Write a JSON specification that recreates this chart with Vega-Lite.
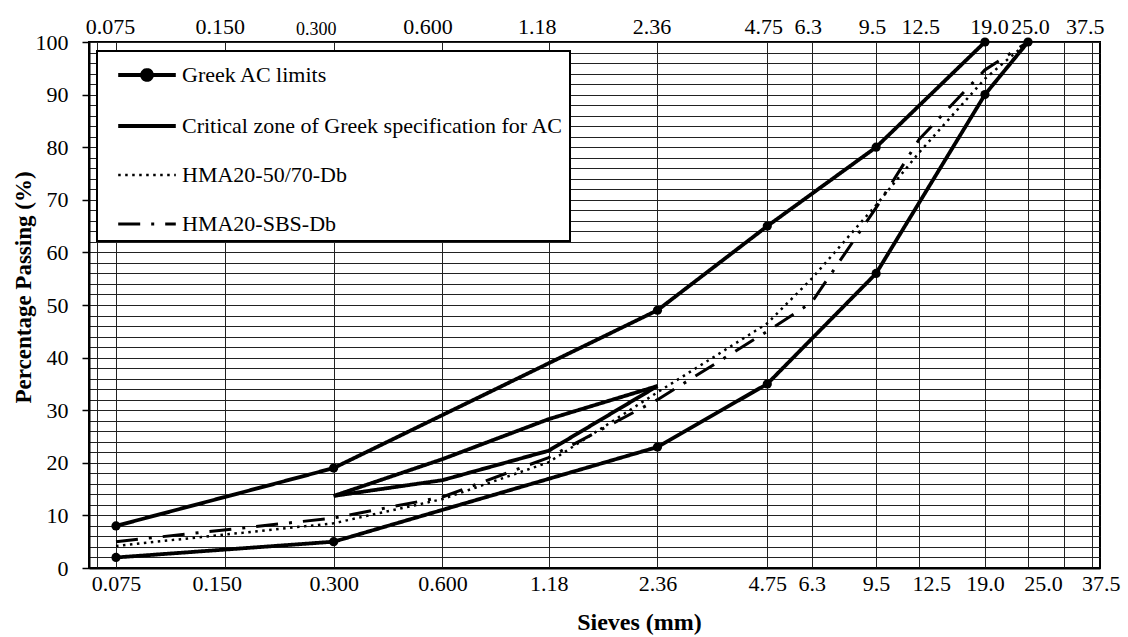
{
  "$schema": "https://vega.github.io/schema/vega-lite/v6.json",
  "width": 1011,
  "height": 526,
  "autosize": {"type": "none"},
  "padding": {"left": 89, "top": 42, "right": 28, "bottom": 69},
  "background": "white",
  "config": {
    "font": "Liberation Serif",
    "view": {"stroke": "black", "strokeWidth": 2}
  },
  "data": {
    "values": [
      {"series": "Greek AC limits", "line": "upper", "sieve": 0.075, "passing": 8},
      {"series": "Greek AC limits", "line": "upper", "sieve": 0.3, "passing": 19},
      {"series": "Greek AC limits", "line": "upper", "sieve": 2.36, "passing": 49},
      {"series": "Greek AC limits", "line": "upper", "sieve": 4.75, "passing": 65},
      {"series": "Greek AC limits", "line": "upper", "sieve": 9.5, "passing": 80},
      {"series": "Greek AC limits", "line": "upper", "sieve": 19, "passing": 100},
      {"series": "Greek AC limits", "line": "lower", "sieve": 0.075, "passing": 2},
      {"series": "Greek AC limits", "line": "lower", "sieve": 0.3, "passing": 5},
      {"series": "Greek AC limits", "line": "lower", "sieve": 2.36, "passing": 23},
      {"series": "Greek AC limits", "line": "lower", "sieve": 4.75, "passing": 35},
      {"series": "Greek AC limits", "line": "lower", "sieve": 9.5, "passing": 56},
      {"series": "Greek AC limits", "line": "lower", "sieve": 19, "passing": 90},
      {"series": "Greek AC limits", "line": "lower", "sieve": 25, "passing": 100},
      {"series": "Critical zone of Greek specification for AC", "line": "zone-low", "sieve": 0.3, "passing": 13.7},
      {"series": "Critical zone of Greek specification for AC", "line": "zone-low", "sieve": 0.6, "passing": 16.7},
      {"series": "Critical zone of Greek specification for AC", "line": "zone-low", "sieve": 1.18, "passing": 22.3},
      {"series": "Critical zone of Greek specification for AC", "line": "zone-low", "sieve": 2.36, "passing": 34.6},
      {"series": "Critical zone of Greek specification for AC", "line": "zone-high", "sieve": 0.3, "passing": 13.7},
      {"series": "Critical zone of Greek specification for AC", "line": "zone-high", "sieve": 0.6, "passing": 20.7},
      {"series": "Critical zone of Greek specification for AC", "line": "zone-high", "sieve": 1.18, "passing": 28.3},
      {"series": "Critical zone of Greek specification for AC", "line": "zone-high", "sieve": 2.36, "passing": 34.6},
      {"series": "HMA20-50/70-Db", "line": "hma-5070", "sieve": 0.075, "passing": 4.2},
      {"series": "HMA20-50/70-Db", "line": "hma-5070", "sieve": 0.3, "passing": 8.5},
      {"series": "HMA20-50/70-Db", "line": "hma-5070", "sieve": 0.6, "passing": 13.1},
      {"series": "HMA20-50/70-Db", "line": "hma-5070", "sieve": 1.18, "passing": 20.1},
      {"series": "HMA20-50/70-Db", "line": "hma-5070", "sieve": 2.36, "passing": 33.4},
      {"series": "HMA20-50/70-Db", "line": "hma-5070", "sieve": 4.75, "passing": 46.5},
      {"series": "HMA20-50/70-Db", "line": "hma-5070", "sieve": 6.3, "passing": 55},
      {"series": "HMA20-50/70-Db", "line": "hma-5070", "sieve": 9.5, "passing": 69},
      {"series": "HMA20-50/70-Db", "line": "hma-5070", "sieve": 12.5, "passing": 79},
      {"series": "HMA20-50/70-Db", "line": "hma-5070", "sieve": 19, "passing": 93},
      {"series": "HMA20-50/70-Db", "line": "hma-5070", "sieve": 25, "passing": 100},
      {"series": "HMA20-SBS-Db", "line": "hma-sbs", "sieve": 0.075, "passing": 5},
      {"series": "HMA20-SBS-Db", "line": "hma-sbs", "sieve": 0.3, "passing": 9.5},
      {"series": "HMA20-SBS-Db", "line": "hma-sbs", "sieve": 0.6, "passing": 13.5},
      {"series": "HMA20-SBS-Db", "line": "hma-sbs", "sieve": 1.18, "passing": 21},
      {"series": "HMA20-SBS-Db", "line": "hma-sbs", "sieve": 2.36, "passing": 32},
      {"series": "HMA20-SBS-Db", "line": "hma-sbs", "sieve": 4.75, "passing": 45},
      {"series": "HMA20-SBS-Db", "line": "hma-sbs", "sieve": 6.3, "passing": 50.5},
      {"series": "HMA20-SBS-Db", "line": "hma-sbs", "sieve": 9.5, "passing": 68.5},
      {"series": "HMA20-SBS-Db", "line": "hma-sbs", "sieve": 12.5, "passing": 81.5},
      {"series": "HMA20-SBS-Db", "line": "hma-sbs", "sieve": 19, "passing": 94.7},
      {"series": "HMA20-SBS-Db", "line": "hma-sbs", "sieve": 25, "passing": 100}
    ]
  },
  "layer": [
    {
      "mark": {"type": "line", "color": "black", "strokeJoin": "round", "strokeCap": "butt"},
      "encoding": {
        "x": {
          "field": "sieve",
          "type": "quantitative",
          "scale": {"type": "log", "domain": [0.06315, 39.54], "nice": false, "zero": false},
          "axis": {
            "orient": "bottom",
            "values": [0.06645, 0.075, 0.15, 0.3, 0.6, 1.18, 2.36, 4.75, 6.3, 9.5, 12.5, 19, 25, 31.5, 37.5],
            "tickCount": 40,
            "labelExpr": "datum.value < 0.07 || (datum.value > 30 && datum.value < 35) ? '' : datum.value < 0.7 ? format(datum.value, '.3f') : datum.value < 5 ? format(datum.value, '.2f') : format(datum.value, '.1f')",
            "grid": true,
            "gridColor": "#222222",
            "gridWidth": 1,
            "ticks": false,
            "tickSize": 0,
            "domainColor": "black",
            "domainWidth": 2,
            "labelFont": "Liberation Serif",
            "labelFontSize": 22,
            "labelColor": "black",
            "labelPadding": 5,
            "labelOverlap": false,
            "labelFlush": false,
            "labelBound": false,
            "labelOffset": {
              "condition": [
                {"test": "abs(datum.value - 0.15) < 0.001", "value": -8},
                {"test": "abs(datum.value - 12.5) < 0.001", "value": 12},
                {"test": "abs(datum.value - 25) < 0.001", "value": 15},
                {"test": "abs(datum.value - 37.5) < 0.001", "value": 9}
              ],
              "value": 0
            },
            "title": "Sieves (mm)",
            "titleFont": "Liberation Serif",
            "titleFontSize": 24,
            "titleFontWeight": "bold",
            "titleColor": "black",
            "titleX": 550,
            "titleY": 54,
            "titleBaseline": "middle"
          }
        },
        "y": {
          "field": "passing",
          "type": "quantitative",
          "scale": {"domain": [0, 100], "nice": false},
          "axis": {
            "values": [0, 2, 4, 6, 8, 10, 12, 14, 16, 18, 20, 22, 24, 26, 28, 30, 32, 34, 36, 38, 40, 42, 44, 46, 48, 50, 52, 54, 56, 58, 60, 62, 64, 66, 68, 70, 72, 74, 76, 78, 80, 82, 84, 86, 88, 90, 92, 94, 96, 98, 100],
            "tickCount": 80,
            "labelExpr": "datum.value % 10 === 0 ? datum.label : ''",
            "tickOpacity": {"condition": {"test": "datum.value % 10 === 0", "value": 1}, "value": 0},
            "tickSize": 7,
            "tickWidth": 1.5,
            "tickColor": "black",
            "domainColor": "black",
            "domainWidth": 2,
            "grid": true,
            "gridColor": "#222222",
            "gridWidth": 1,
            "labelFont": "Liberation Serif",
            "labelFontSize": 22,
            "labelColor": "black",
            "labelPadding": 14,
            "labelOverlap": false,
            "title": "Percentage Passing (%)",
            "titleFont": "Liberation Serif",
            "titleFontSize": 23,
            "titleFontWeight": "bold",
            "titleColor": "black",
            "titleX": -66,
            "titleY": 245,
            "titleBaseline": "middle"
          }
        },
        "detail": {"field": "line"},
        "strokeDash": {
          "field": "series",
          "type": "nominal",
          "scale": {
            "domain": ["Greek AC limits", "Critical zone of Greek specification for AC", "HMA20-50/70-Db", "HMA20-SBS-Db"],
            "range": [[1, 0], [1, 0], [2.5, 4.5], [22, 11, 3, 11]]
          },
          "legend": {
            "title": null,
            "orient": "none",
            "legendX": 8,
            "legendY": 9,
            "direction": "vertical",
            "padding": 6,
            "fillColor": "white",
            "strokeColor": "black",
            "labelFont": "Liberation Serif",
            "labelFontSize": 22,
            "labelColor": "black",
            "labelLimit": 600,
            "labelOffset": 17,
            "symbolOffset": 26,
            "rowPadding": 20,
            "symbolType": "stroke",
            "symbolSize": 1024,
            "symbolStrokeColor": "black",
            "symbolStrokeWidth": 3.8,
            "encode": {
              "symbols": {
                "update": {
                  "shape": {"signal": "datum.value === 'Greek AC limits' ? 'M-1.8,0H1.8M0.31,0A0.31,0.31,0,1,1,-0.31,0A0.31,0.31,0,1,1,0.31,0Z' : 'M-1.8,0H1.8'"},
                  "size": {"value": 1024},
                  "strokeWidth": {"signal": "(datum.value === 'HMA20-50/70-Db' ? 2.5 : datum.value === 'HMA20-SBS-Db' ? 3 : 3.8)"},
                  "fill": {"value": "black"},
                  "stroke": {"value": "black"}
                }
              },
              "legend": {
                "update": {"strokeWidth": {"value": 2}}
              }
            }
          }
        },
        "strokeWidth": {
          "condition": [
            {"test": "datum.series === 'HMA20-50/70-Db'", "value": 2.5},
            {"test": "datum.series === 'HMA20-SBS-Db'", "value": 3}
          ],
          "value": 3.8
        }
      }
    },
    {
      "transform": [{"filter": "datum.series === 'Greek AC limits'"}],
      "mark": {"type": "circle", "color": "black", "opacity": 1, "size": 85},
      "encoding": {
        "x": {
          "field": "sieve",
          "type": "quantitative",
          "scale": {"type": "log", "domain": [0.06315, 39.54], "nice": false, "zero": false},
          "axis": {
            "orient": "top",
            "values": [0.075, 0.15, 0.3, 0.6, 1.18, 2.36, 4.75, 6.3, 9.5, 12.5, 19, 25, 37.5],
            "tickCount": 40,
            "labelExpr": "datum.value < 0.7 ? format(datum.value, '.3f') : datum.value < 5 ? format(datum.value, '.2f') : format(datum.value, '.1f')",
            "grid": false,
            "ticks": false,
            "tickSize": 0,
            "domain": false,
            "labelFont": "Liberation Serif",
            "labelFontSize": {"condition": {"test": "abs(datum.value - 0.3) < 0.001", "value": 18}, "value": 22},
            "labelColor": "black",
            "labelPadding": 4,
            "labelOverlap": false,
            "labelFlush": false,
            "labelBound": false,
            "labelOffset": {
              "condition": [
                {"test": "abs(datum.value - 0.075) < 0.001", "value": -6},
                {"test": "abs(datum.value - 0.15) < 0.001", "value": -5},
                {"test": "abs(datum.value - 0.3) < 0.001", "value": -18},
                {"test": "abs(datum.value - 0.6) < 0.001", "value": -15},
                {"test": "abs(datum.value - 1.18) < 0.001", "value": -12},
                {"test": "abs(datum.value - 2.36) < 0.001", "value": -6},
                {"test": "abs(datum.value - 4.75) < 0.001", "value": -4},
                {"test": "abs(datum.value - 6.3) < 0.001", "value": -4},
                {"test": "abs(datum.value - 9.5) < 0.001", "value": -4},
                {"test": "abs(datum.value - 12.5) < 0.001", "value": 1},
                {"test": "abs(datum.value - 19) < 0.001", "value": 4},
                {"test": "abs(datum.value - 25) < 0.001", "value": 2},
                {"test": "abs(datum.value - 37.5) < 0.001", "value": -7}
              ],
              "value": 0
            },
            "title": null
          }
        },
        "y": {"field": "passing", "type": "quantitative"}
      }
    }
  ],
  "resolve": {"scale": {"x": "independent"}}
}
